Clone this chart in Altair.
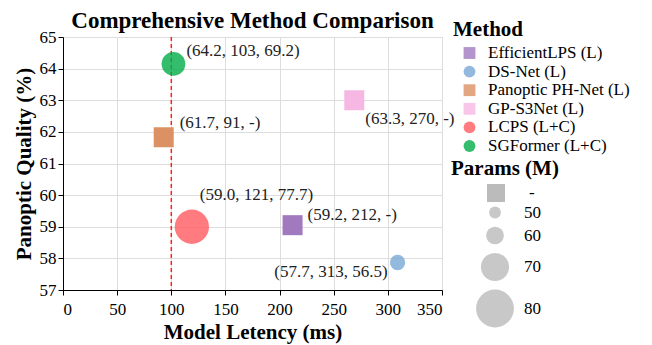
import altair as alt
import pandas as pd

# ---- data ----
methods = ["EfficientLPS (L)", "DS-Net (L)", "Panoptic PH-Net (L)",
           "GP-S3Net (L)", "LCPS (L+C)", "SGFormer (L+C)"]
latency = [212, 309, 93, 269, 119, 102]
pq = [59.05, 57.87, 61.83, 63.0, 59.0, 64.15]
params = [None, 56.5, None, None, 77.7, 69.2]
labels = ["(59.2, 212, -)", "(57.7, 313, 56.5)", "(61.7, 91, -)",
          "(63.3, 270, -)", "(59.0, 121, 77.7)", "(64.2, 103, 69.2)"]
x_ticks = [0, 50, 100, 150, 200, 250, 300, 350]
y_ticks = [57, 58, 59, 60, 61, 62, 63, 64, 65]
size_legend_values = [50, 60, 70, 80]
ref_latency = [100]

# ---- styles ----
colors = ["#a079bf", "#78a8d6", "#db9163", "#f6b8e2", "#ff5a5f", "#00ac47"]
shapes = ["square" if p is None else "circle" for p in params]
label_style = {
    "EfficientLPS (L)": dict(dx=15, dy=-10, align="left"),
    "DS-Net (L)": dict(dx=-10, dy=10, align="right"),
    "Panoptic PH-Net (L)": dict(dx=16, dy=-14, align="left"),
    "GP-S3Net (L)": dict(dx=11, dy=19, align="left"),
    "LCPS (L+C)": dict(dx=8, dy=-32, align="left"),
    "SGFormer (L+C)": dict(dx=13, dy=-13, align="left"),
}
FONT = "Liberation Serif, Times New Roman, Times, serif"

df = pd.DataFrame({
    "Method": methods,
    "Latency": latency,
    "PQ": pq,
    "Params": params,
    "Label": labels,
    "Flag": ["-" if p is None else "" for p in params],
})
df_sq = df[df["Params"].isna()].drop(columns=["Params"])
df_ci = df[df["Params"].notna()]

W, H = 379, 253

xscale = alt.Scale(domain=[0, 350], nice=False)
xaxis = alt.Axis(values=x_ticks, labelOverlap=False, labelPadding=6, titlePadding=4)
yscale = alt.Scale(domain=[57, 65], nice=False, zero=False)
yaxis = alt.Axis(values=y_ticks, labelOverlap=False, tickCount=9)

xenc = alt.X("Latency:Q", title="Model Letency (ms)", scale=xscale, axis=xaxis)
yenc = alt.Y("PQ:Q", title="Panoptic Quality (%)", scale=yscale, axis=yaxis)
color_enc = alt.Color("Method:N", sort=methods,
                      scale=alt.Scale(domain=methods, range=colors),
                      legend=alt.Legend(title="Method", orient="none",
                                        legendX=390, legendY=-18,
                                        symbolSize=140, symbolOffset=8,
                                        labelOffset=10, rowPadding=0.6,
                                        titlePadding=4.5))
shape_enc = alt.Shape("Method:N", sort=methods,
                      scale=alt.Scale(domain=methods, range=shapes))

rule = alt.Chart(pd.DataFrame({"Latency": ref_latency})).mark_rule(
    color="#ff2020", strokeDash=[4, 3], strokeWidth=1.5
).encode(x=xenc)

squares = alt.Chart(df_sq).mark_point(filled=True, size=400, opacity=0.8).encode(
    x=xenc, y=yenc, color=color_enc, shape=shape_enc,
    opacity=alt.Opacity("Flag:O", scale=alt.Scale(range=[0.8]),
                        legend=alt.Legend(title="Params (M)", orient="none",
                                          legendX=388, legendY=121,
                                          symbolType="square", symbolSize=324,
                                          symbolOffset=35, labelOffset=23)),
)

circles = alt.Chart(df_ci).mark_point(filled=True, opacity=0.8).encode(
    x=xenc, y=yenc, color=color_enc, shape=shape_enc,
    size=alt.Size("Params:Q",
                  scale=alt.Scale(domain=[50, 56.5, 60, 69.2, 70, 77.7, 80],
                                  range=[139, 235, 314, 560, 789, 1176, 1431]),
                  legend=alt.Legend(title=None, orient="none",
                                    legendX=412, legendY=167, rowPadding=1.5,
                                    values=size_legend_values, labelOffset=9)),
)

texts = []
for m in methods:
    st = label_style[m]
    texts.append(
        alt.Chart(df[df["Method"] == m]).mark_text(
            font=FONT, fontSize=17, color="#222222", baseline="middle", **st
        ).encode(x=xenc, y=yenc, text="Label:N")
    )

chart = alt.layer(rule, squares, circles, *texts).properties(
    width=W, height=H,
    title=alt.TitleParams("Comprehensive Method Comparison", font=FONT,
                          fontSize=23, fontWeight="bold", color="black",
                          anchor="middle", frame="group", offset=-14),
    padding={"left": 5, "top": 2, "right": 5, "bottom": 3},
).configure_axis(
    labelFont=FONT, labelFontSize=17, labelColor="black",
    titleFont=FONT, titleFontSize=21, titleFontWeight="bold", titleColor="black",
    gridColor="#dddddd", domainColor="black", tickColor="black",
    tickSize=5, labelPadding=2, titlePadding=5, labelOverlap=False,
).configure_legend(
    labelFont=FONT, labelFontSize=17, labelColor="black",
    titleFont=FONT, titleFontSize=21, titleFontWeight="bold", titleColor="black",
    symbolBaseFillColor="#aaaaaa", symbolBaseStrokeColor="transparent",
    padding=0, titlePadding=4,
).configure_view(stroke="#dddddd")

chart.save("out.html", embed_options={"renderer": "svg", "actions": False})
